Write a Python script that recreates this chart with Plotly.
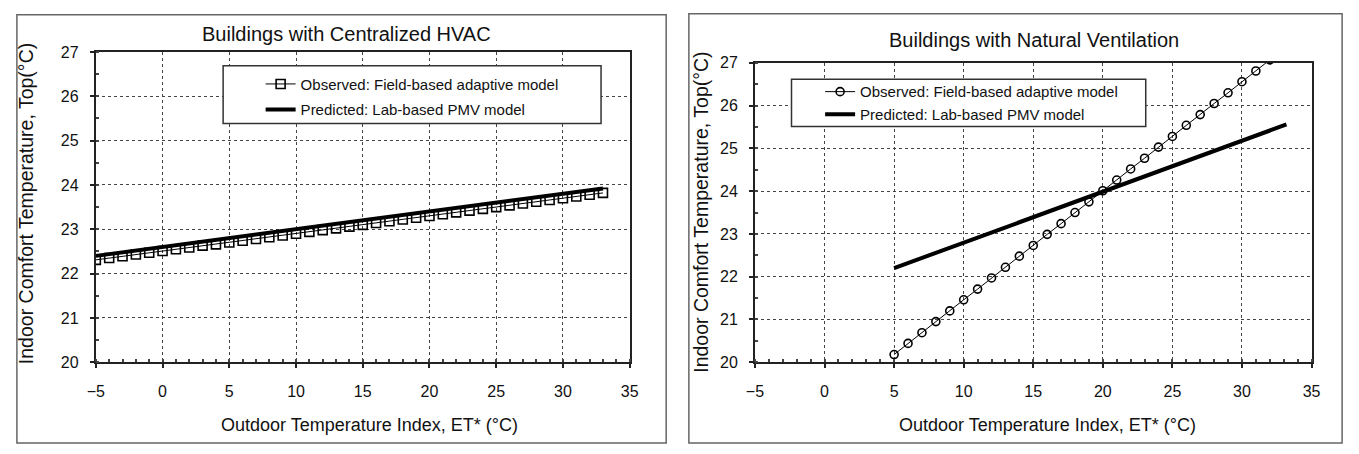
import plotly.graph_objects as go

W, H = 1359, 454

# ---------------- data ----------------
hvac_obs_x = [-5, -4, -3, -2, -1, 0, 1, 2, 3, 4, 5, 6, 7, 8, 9, 10, 11, 12, 13, 14, 15, 16, 17, 18, 19,
              20, 21, 22, 23, 24, 25, 26, 27, 28, 29, 30, 31, 32, 33]
hvac_obs_y = [22.31, 22.35, 22.39, 22.43, 22.47, 22.51, 22.55, 22.59, 22.63, 22.66, 22.70, 22.74, 22.78,
              22.82, 22.86, 22.90, 22.94, 22.98, 23.02, 23.06, 23.10, 23.14, 23.18, 23.22, 23.26, 23.30,
              23.34, 23.38, 23.42, 23.46, 23.50, 23.54, 23.58, 23.62, 23.66, 23.70, 23.74, 23.78, 23.82]
hvac_pmv_x = [-5, 33]
hvac_pmv_y = [22.40, 23.92]

nv_obs_x = [5, 6, 7, 8, 9, 10, 11, 12, 13, 14, 15, 16, 17, 18, 19, 20, 21, 22, 23, 24, 25, 26, 27, 28,
            29, 30, 31, 32]
nv_obs_y = [20.18, 20.44, 20.69, 20.95, 21.20, 21.46, 21.71, 21.97, 22.22, 22.48, 22.73, 22.99, 23.24,
            23.50, 23.75, 24.01, 24.26, 24.52, 24.77, 25.03, 25.28, 25.54, 25.79, 26.05, 26.30, 26.56,
            26.81, 27.07]
nv_pmv_x = [5, 33.2]
nv_pmv_y = [22.20, 25.56]

titles = ["Buildings with Centralized HVAC", "Buildings with Natural Ventilation"]
obs_name = "Observed: Field-based adaptive model"
pmv_name = "Predicted: Lab-based PMV model"
x_title = "Outdoor Temperature Index, ET* (°C)"
y_title = "Indoor Comfort Temperature, Top(°C)"
x_ticks = [-5, 0, 5, 10, 15, 20, 25, 30, 35]
y_ticks = [20, 21, 22, 23, 24, 25, 26, 27]

FONT = "Liberation Sans, Arial, Helvetica, sans-serif"
INK = "#111"


def px_x(p):
    return p / W


def px_y(p):
    return 1 - p / H


fig = go.Figure()

# left panel
fig.add_trace(go.Scatter(x=hvac_obs_x, y=hvac_obs_y, mode="lines+markers", name=obs_name,
                         line=dict(color="black", width=1),
                         marker=dict(symbol="square-open", size=9, color="black", line=dict(width=1.6)),
                         xaxis="x", yaxis="y", legend="legend", legendgroup="a1"))
fig.add_trace(go.Scatter(x=hvac_pmv_x, y=hvac_pmv_y, mode="lines", name=pmv_name,
                         line=dict(color="black", width=4), xaxis="x", yaxis="y",
                         legend="legend", legendgroup="a2"))
# right panel
fig.add_trace(go.Scatter(x=nv_obs_x, y=nv_obs_y, mode="lines+markers", name=obs_name,
                         line=dict(color="black", width=1),
                         marker=dict(symbol="circle-open", size=8, color="black", line=dict(width=1.6)),
                         xaxis="x2", yaxis="y2", legend="legend2", legendgroup="b1"))
fig.add_trace(go.Scatter(x=nv_pmv_x, y=nv_pmv_y, mode="lines", name=pmv_name,
                         line=dict(color="black", width=4), xaxis="x2", yaxis="y2",
                         legend="legend2", legendgroup="b2"))

axis_common = dict(
    showgrid=True, gridcolor="#444", griddash="dot", gridwidth=1.3,
    zeroline=False, showline=True, linecolor="#222", linewidth=2, mirror=True,
    ticks="outside", ticklen=4, tickcolor="#222", tickwidth=1.5,
    tickfont=dict(family=FONT, size=16, color=INK),
)

legend_common = dict(xanchor="left", yanchor="top", bgcolor="rgba(0,0,0,0)", borderwidth=0,
                     font=dict(family=FONT, size=15, color=INK), traceorder="grouped")

fig.update_layout(
    width=W, height=H,
    margin=dict(l=0, r=0, t=0, b=0),
    paper_bgcolor="white", plot_bgcolor="white",
    showlegend=True,
    xaxis=dict(domain=[px_x(88), px_x(629)], range=[-5, 35], tickvals=x_ticks, anchor="y",
               minor=dict(dtick=1, ticks="inside", ticklen=3, tickcolor="#444"),
               ticklabelstandoff=10, **axis_common),
    yaxis=dict(domain=[px_y(368), px_y(45.7)], range=[20, 27], tickvals=y_ticks, anchor="x",
               minor=dict(dtick=0.5, ticks="inside", ticklen=3, tickcolor="#444"),
               ticklabelstandoff=8, **axis_common),
    xaxis2=dict(domain=[px_x(756), px_x(1320)], range=[-5, 35], tickvals=x_ticks, anchor="y2",
                minor=dict(dtick=1, ticks="inside", ticklen=3, tickcolor="#444"),
                ticklabelstandoff=10, **axis_common),
    yaxis2=dict(domain=[px_y(368), px_y(57)], range=[20, 27], tickvals=y_ticks, anchor="x2",
                minor=dict(dtick=0.5, ticks="inside", ticklen=3, tickcolor="#444"),
                ticklabelstandoff=8, **axis_common),
    legend=dict(x=px_x(255), y=px_y(62), tracegroupgap=3, **legend_common),
    legend2=dict(x=px_x(822), y=px_y(70), tracegroupgap=0, **legend_common),
)

# panel frames
fig.add_shape(type="rect", xref="paper", yref="paper", x0=px_x(8), x1=px_x(666),
              y0=px_y(452), y1=px_y(7), line=dict(color="#666", width=1.5), layer="below")
fig.add_shape(type="rect", xref="paper", yref="paper", x0=px_x(689), x1=px_x(1351),
              y0=px_y(452), y1=px_y(6), line=dict(color="#666", width=1.5), layer="below")
# legend frames
fig.add_shape(type="rect", xref="paper", yref="paper", x0=px_x(217), x1=px_x(600),
              y0=px_y(120), y1=px_y(60), fillcolor="white", line=dict(color="#333", width=1.5),
              layer="above")
fig.add_shape(type="rect", xref="paper", yref="paper", x0=px_x(793), x1=px_x(1152),
              y0=px_y(123), y1=px_y(74), fillcolor="white", line=dict(color="#333", width=1.5),
              layer="above")

# titles and axis titles
ann_font = dict(family=FONT, size=18, color=INK)
ylab_font = dict(family=FONT, size=19.5, color=INK)
common_ann = dict(xref="paper", yref="paper", showarrow=False, xanchor="center", yanchor="middle")
fig.add_annotation(x=px_x(342), y=px_y(27), text=titles[0],
                   font=dict(family=FONT, size=20, color=INK), **common_ann)
fig.add_annotation(x=px_x(1039), y=px_y(33), text=titles[1],
                   font=dict(family=FONT, size=20, color=INK), **common_ann)
fig.add_annotation(x=px_x(365), y=px_y(433), text=x_title, font=ann_font, **common_ann)
fig.add_annotation(x=px_x(1052), y=px_y(433), text=x_title, font=ann_font, **common_ann)
fig.add_annotation(x=px_x(18), y=px_y(203), text=y_title, textangle=-90, font=ylab_font, **common_ann)
fig.add_annotation(x=px_x(701), y=px_y(212), text=y_title, textangle=-90, font=ylab_font, **common_ann)

fig.write_html(
    "out.html",
    config={"displayModeBar": False},
    post_script="document.body.style.margin='0';document.body.style.overflow='hidden';",
)
